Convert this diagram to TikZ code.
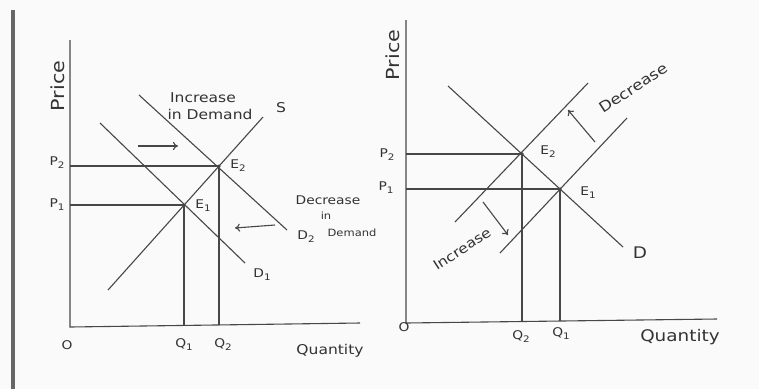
\documentclass[tikz,border=0pt]{standalone}
\usepackage{fontspec}
\newfontfamily\hand[FakeStretch=1.15]{DejaVu Sans}
\usetikzlibrary{arrows.meta}
\newcommand\lowsub[1]{\raisebox{-0.45ex}{\fontsize{9}{9}\selectfont #1}}
\begin{document}
\begin{tikzpicture}[x=1pt,y=-1pt,
  ink/.style={draw=black!72, line width=1.1pt},
  lbl/.style={text=black!80, font=\hand\fontsize{12}{12}\selectfont, inner sep=0pt},
  midlbl/.style={lbl, font=\hand\fontsize{13.5}{13.5}\selectfont},
  biglbl/.style={lbl, font=\hand\fontsize{16}{16}\selectfont},
  hugelbl/.style={lbl, font=\hand\fontsize{18}{18}\selectfont},
  smalllbl/.style={lbl, font=\hand\fontsize{10}{10}\selectfont},
  dot/.style={circle, fill=black!80, inner sep=0pt, minimum size=3.5pt},
  shiftarrow/.style={ink, -{To[length=5pt,width=8pt]}}]
\fill[black!2] (0,0) rectangle (759,389);
\useasboundingbox (0,0) rectangle (759,389);
% left border bar
\coordinate (bar-top) at (12.5,10);
\coordinate (bar-bot) at (12.5,389);
\draw[black!60, line width=4pt] (bar-top) -- (bar-bot);

% ===== Left panel =====
\coordinate (L-top) at (70,40);
\coordinate (L-o) at (70,327);
\coordinate (L-end) at (360,323);
\draw[ink] (L-top) -- (L-o) -- (L-end);
\node[dot] (LE1) at (184,205) {};
\node[dot] (LE2) at (219,166) {};
\coordinate (LP1) at (70,205);
\coordinate (LP2) at (70,166);
\coordinate (LQ1) at (184,326);
\coordinate (LQ2) at (219,325);
\draw[ink] (LP1) -- (LE1.center) -- (LQ1);
\draw[ink] (LP2) -- (LE2.center) -- (LQ2);
% supply
\coordinate (LS-a) at (108,290);
\coordinate (LS-b) at (263,117);
\draw[ink] (LS-a) -- (LS-b);
% demand curves
\coordinate (LD1-a) at (100,123);
\coordinate (LD1-b) at (245,263);
\draw[ink] (LD1-a) -- (LD1-b);
\coordinate (LD2-a) at (139,95);
\coordinate (LD2-b) at (287,230);
\draw[ink] (LD2-a) -- (LD2-b);
% shift arrows
\coordinate (La1) at (138,146);
\coordinate (La2) at (178,146);
\draw[shiftarrow] (La1) -- (La2);
\coordinate (Lb1) at (275,225);
\coordinate (Lb2) at (235,228);
\draw[shiftarrow] (Lb1) -- (Lb2);
% labels
\node[hugelbl, rotate=90] (Lprice) at (58,86) {Price};
\node[lbl] (Lzero) at (67,345) {O};
\node[lbl] (LP2lbl) at (57,163) {P\lowsub{2}};
\node[lbl] (LP1lbl) at (57,205) {P\lowsub{1}};
\node[lbl] (LQ1lbl) at (184,345) {Q\lowsub{1}};
\node[lbl] (LQ2lbl) at (223,345) {Q\lowsub{2}};
\node[lbl] (LE2lbl) at (238,166) {E\lowsub{2}};
\node[lbl] (LE1lbl) at (203,206) {E\lowsub{1}};
\node[lbl] (LD1lbl) at (262,275) {D\lowsub{1}};
\node[lbl] (LD2lbl) at (306,237) {D\lowsub{2}};
\node[midlbl] (LSlbl) at (281,108) {S};
\node[midlbl] (Linc1) at (203,98) {Increase};
\node[midlbl] (Linc2) at (210,114) {in Demand};
\node[lbl] (Ldec1) at (328,200) {Decrease};
\node[smalllbl] (Ldec2) at (326,216) {in};
\node[smalllbl] (Ldec3) at (352,233) {Demand};
\node[midlbl] (Lqty) at (330,351) {Quantity};

% ===== Right panel =====
\coordinate (R-top) at (406,20);
\coordinate (R-o) at (406,323);
\coordinate (R-end) at (717,319);
\draw[ink] (R-top) -- (R-o) -- (R-end);
\node[dot] (RE2) at (522,154) {};
\node[dot] (RE1) at (560,189) {};
\coordinate (RP2) at (406,154);
\coordinate (RP1) at (406,189);
\coordinate (RQ2) at (522,322);
\coordinate (RQ1) at (560,321);
\draw[ink] (RP2) -- (RE2.center) -- (RQ2);
\draw[ink] (RP1) -- (RE1.center) -- (RQ1);
% demand
\coordinate (RD-a) at (448,86);
\coordinate (RD-b) at (623,247);
\draw[ink] (RD-a) -- (RD-b);
% supplies
\coordinate (RS2-a) at (455,222);
\coordinate (RS2-b) at (588,83);
\draw[ink] (RS2-a) -- (RS2-b);
\coordinate (RS1-a) at (500,253);
\coordinate (RS1-b) at (627,118);
\draw[ink] (RS1-a) -- (RS1-b);
% shift arrows
\coordinate (Ra1) at (595,142);
\coordinate (Ra2) at (568,110);
\draw[shiftarrow] (Ra1) -- (Ra2);
\coordinate (Rb1) at (483,202);
\coordinate (Rb2) at (508,235);
\draw[shiftarrow] (Rb1) -- (Rb2);
% labels
\node[hugelbl, rotate=90] (Rprice) at (393,55) {Price};
\node[lbl] (Rzero) at (404,327) {O};
\node[lbl] (RP2lbl) at (387,155) {P\lowsub{2}};
\node[lbl] (RP1lbl) at (386,188) {P\lowsub{1}};
\node[lbl] (RQ2lbl) at (521,337) {Q\lowsub{2}};
\node[lbl] (RQ1lbl) at (561,334) {Q\lowsub{1}};
\node[lbl] (RE2lbl) at (548,152) {E\lowsub{2}};
\node[lbl] (RE1lbl) at (588,193) {E\lowsub{1}};
\node[biglbl] (RDlbl) at (640,253) {D};
\node[lbl, font=\hand\fontsize{14.5}{14.5}\selectfont, rotate=33] (Rdec) at (633,88) {Decrease};
\node[lbl, font=\hand\fontsize{13.5}{13.5}\selectfont, rotate=33] (Rinc) at (462,249) {Increase};
\node[biglbl] (Rqty) at (680,337) {Quantity};
\end{tikzpicture}
\end{document}
